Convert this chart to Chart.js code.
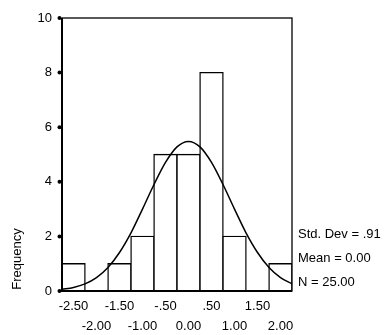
<!DOCTYPE html>
<html>
<head>
<meta charset="utf-8">
<script src="https://cdn.jsdelivr.net/npm/chart.js@4"></script>
<style>
  html, body { margin: 0; padding: 0; background: #fff; }
  #wrap { width: 385px; height: 335px; }
</style>
</head>
<body>
<div id="wrap"><canvas id="histChart" width="385" height="335"></canvas></div>
<script>
const binCenters = [-2.5, -2.0, -1.5, -1.0, -0.5, 0.0, 0.5, 1.0, 1.5, 2.0];
const frequencies = [1, 0, 1, 2, 5, 5, 8, 2, 0, 1];
const binLabels = ['-2.50', '-2.00', '-1.50', '-1.00', '-.50', '0.00', '.50', '1.00', '1.50', '2.00'];
const yTicks = [0, 2, 4, 6, 8, 10];

// normal curve
const curveX = [-2.75, -2.5, -2.25, -2.0, -1.75, -1.5, -1.25, -1.0, -0.75, -0.5, -0.25, 0.0,
                0.25, 0.5, 0.75, 1.0, 1.25, 1.5, 1.75, 2.0, 2.25];
const curveY = [0.06, 0.13, 0.26, 0.49, 0.86, 1.41, 2.13, 3.0, 3.9, 4.71, 5.28, 5.48,
                5.28, 4.71, 3.9, 3.0, 2.13, 1.41, 0.86, 0.49, 0.26];

const statLines = ['Std. Dev = .91', 'Mean = 0.00', 'N = 25.00'];

const FONT = 'Arial, "Liberation Sans", sans-serif';

const framePlugin = {
    id: 'frame',
    afterDatasetsDraw(chart) {
        const { ctx, chartArea: a } = chart;
        const yScale = chart.scales.y;
        ctx.save();
        ctx.strokeStyle = '#000';
        ctx.lineWidth = 1.3;
        ctx.strokeRect(a.left, a.top, a.right - a.left, a.bottom - a.top);
        ctx.lineWidth = 2;
        ctx.beginPath();
        ctx.moveTo(a.left, a.top);
        ctx.lineTo(a.left, a.bottom);
        ctx.lineTo(a.right, a.bottom);
        ctx.stroke();
        // dot tick marks on the y axis
        ctx.fillStyle = '#000';
        yTicks.forEach(t => {
            const py = yScale.getPixelForValue(t);
            ctx.beginPath();
            ctx.arc(a.left - 2.5, py, 2, 0, Math.PI * 2);
            ctx.fill();
        });
        // axis title and stats text
        ctx.font = '13px ' + FONT;
        ctx.textBaseline = 'middle';
        ctx.textAlign = 'left';
        statLines.forEach((s, i) => ctx.fillText(s, a.right + 6, 234 + i * 24));
        ctx.translate(17, 259);
        ctx.rotate(-Math.PI / 2);
        ctx.textAlign = 'center';
        ctx.fillText('Frequency', 0, 0);
        ctx.restore();
    }
};

new Chart(document.getElementById('histChart'), {
    type: 'bar',
    data: {
        datasets: [
            {
                type: 'line',
                data: curveX.map((x, i) => ({ x: x, y: curveY[i] })),
                borderColor: '#000',
                borderWidth: 1.5,
                pointRadius: 0,
                cubicInterpolationMode: 'monotone',
                fill: false,
                order: 0
            },
            {
                type: 'bar',
                data: binCenters.map((x, i) => ({ x: x, y: frequencies[i] })),
                backgroundColor: '#fff',
                borderColor: '#000',
                borderWidth: 1.4,
                inflateAmount: 0.7,
                barPercentage: 1,
                categoryPercentage: 1,
                order: 1
            }
        ]
    },
    options: {
        responsive: false,
        animation: false,
        events: [],
        layout: { padding: { top: 18, right: 93, left: 0, bottom: 0 } },
        plugins: { legend: { display: false }, tooltip: { enabled: false } },
        scales: {
            x: {
                type: 'linear',
                offset: false,
                min: -2.75,
                max: 2.25,
                grid: { display: false, drawTicks: false },
                border: { display: false },
                afterBuildTicks: s => { s.ticks = binCenters.map(v => ({ value: v })); },
                afterFit: s => { s.height = 44; },
                ticks: {
                    autoSkip: false,
                    maxRotation: 0,
                    padding: 5,
                    color: '#000',
                    font: { family: FONT, size: 13, lineHeight: 1.55 },
                    callback: v => {
                        const i = binCenters.findIndex(c => Math.abs(c - v) < 1e-6);
                        return i % 2 === 0 ? [binLabels[i], ''] : ['', binLabels[i]];
                    }
                }
            },
            y: {
                min: 0,
                max: 10,
                grid: { display: false, drawTicks: false },
                border: { display: false },
                afterBuildTicks: s => { s.ticks = yTicks.map(v => ({ value: v })); },
                afterFit: s => { s.width = 62; },
                ticks: {
                    padding: 10,
                    color: '#000',
                    font: { family: FONT, size: 13 }
                }
            }
        }
    },
    plugins: [framePlugin]
});
</script>
</body>
</html>
